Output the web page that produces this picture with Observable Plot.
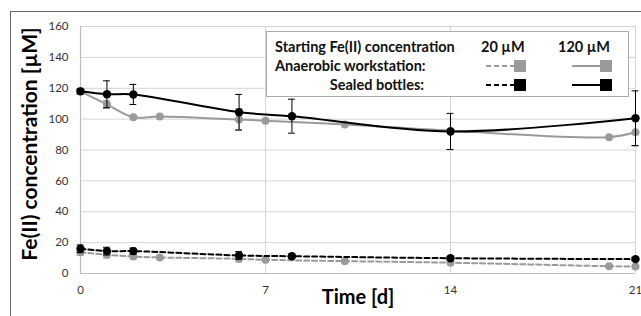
<!DOCTYPE html>
<html>
<head>
<meta charset="utf-8">
<script src="https://cdn.jsdelivr.net/npm/d3@7"></script>
<script src="https://cdn.jsdelivr.net/npm/@observablehq/plot@0.6"></script>
<style>
  html, body { margin: 0; padding: 0; background: #fff; }
  #wrap { position: relative; width: 641px; height: 316px; overflow: hidden; font-family: Lato, "Liberation Sans", sans-serif; }
  #border { position: absolute; left: 10px; top: 11px; width: 640px; height: 320px; border: 1.5px solid #666; box-sizing: border-box; pointer-events: none; }
  #legend { position: absolute; left: 266px; top: 31px; width: 363px; height: 66px; border: 1px solid #aaa; background: #fff; box-sizing: border-box; font-weight: bold; font-size: 14.5px; color: #111; }
  #legend .t { position: absolute; white-space: nowrap; line-height: 1; }
  #legend svg { position: absolute; left: 0; top: 0; }
  #chart { position: absolute; left: 0; top: 0; }
</style>
</head>
<body>
<div id="wrap">
  <div id="chart"></div>
  <div id="border"></div>
  <div id="legend"></div>
</div>
<script>
// ---- data ----
const awTime120   = [0, 1, 2, 3, 6, 7, 10, 14, 20, 21];
const awConc120   = [118, 109.5, 101.2, 101.7, 99.7, 99, 96.5, 92.5, 88.3, 91.5];
const sbTime120   = [0, 1, 2, 6, 8, 14, 21];
const sbConc120   = [118, 116.1, 116, 104.5, 101.9, 92, 100.6];
const sbErr120    = [1.5, 8.7, 6.5, 11.5, 11, 11.7, 17.7];
const awErrTime120 = [0, 1, 6, 21];
const awErr120     = [2, 2.5, 7, 9];

const awTime20    = [0, 1, 2, 3, 6, 7, 10, 14, 20, 21];
const awConc20    = [13.8, 12.1, 11, 10.4, 9.5, 8.9, 8, 7, 4.7, 4.5];
const awErrTime20 = [0, 1, 2, 6];
const awErr20     = [2, 2, 1.5, 2];
const sbTime20    = [0, 1, 2, 6, 8, 14, 21];
const sbConc20    = [16, 14.5, 14.5, 11.7, 11.2, 9.9, 9.3];
const sbErr20     = [2.5, 2.5, 2, 2.5, 1.5, 1, 1];

const yTicks = [0, 20, 40, 60, 80, 100, 120, 140, 160];
const xTicks = [0, 7, 14, 21];
const yTitle = "Fe(II) concentration [µM]";
const xTitle = "Time [d]";
const legendHeader = "Starting Fe(II) concentration";
const legendRows = ["Anaerobic workstation:", "Sealed bottles:"];
const legendCols = ["20 µM", "120 µM"];

// ---- build tables ----
const mk = (ts, vs) => ts.map((t, i) => ({t, v: vs[i]}));
const aw120 = mk(awTime120, awConc120);
const sb120 = mk(sbTime120, sbConc120);
const aw20 = mk(awTime20, awConc20);
const sb20 = mk(sbTime20, sbConc20);
const errs = (ts, vs, es) => ts.map((t, i) => ({t, lo: vs[i] - es[i], hi: vs[i] + es[i]}));
const sb120e = errs(sbTime120, sbConc120, sbErr120);
const sb20e = errs(sbTime20, sbConc20, sbErr20);
const aw120e = awErrTime120.map((t, i) => { const v = awConc120[awTime120.indexOf(t)]; return {t, lo: v - awErr120[i], hi: v + awErr120[i]}; });
const aw20e = awErrTime20.map((t, i) => { const v = awConc20[awTime20.indexOf(t)]; return {t, lo: v - awErr20[i], hi: v + awErr20[i]}; });

const GRAY = "#9a9a9a";
const BLACK = "#000";
const cap = 0.13;

function errMarks(data, color) {
  return [
    Plot.ruleX(data, {x: "t", y1: "lo", y2: "hi", stroke: color, strokeWidth: 1}),
    Plot.ruleY(data, {y: "lo", x1: d => d.t - cap, x2: d => d.t + cap, stroke: color, strokeWidth: 1}),
    Plot.ruleY(data, {y: "hi", x1: d => d.t - cap, x2: d => d.t + cap, stroke: color, strokeWidth: 1})
  ];
}

const chart = Plot.plot({
  width: 641,
  height: 316,
  marginLeft: 80,
  marginRight: 6,
  marginTop: 26,
  marginBottom: 43,
  style: {fontFamily: "Lato, 'Liberation Sans', sans-serif", background: "transparent"},
  x: {domain: [0, 21], ticks: xTicks},
  y: {domain: [0, 160], ticks: yTicks},
  marks: [
    Plot.gridY(yTicks, {stroke: "#d4d4d4", strokeOpacity: 1, strokeWidth: 1}),
    Plot.gridX(xTicks, {stroke: "#d4d4d4", strokeOpacity: 1, strokeWidth: 1}),
    Plot.ruleX([0], {stroke: "#bdbdbd", strokeWidth: 1.2}),
    Plot.ruleY([0], {stroke: "#bdbdbd", strokeWidth: 1.2}),
    Plot.axisY(yTicks, {tickSize: 0, tickPadding: 12, fontSize: 11.5, fill: "#333", label: null}),
    Plot.axisX(xTicks, {tickSize: 0, tickPadding: 12, fontSize: 11.5, fill: "#333", label: null}),
    ...errMarks(aw120e, GRAY),
    ...errMarks(aw20e, GRAY),
    Plot.line(aw120, {x: "t", y: "v", stroke: GRAY, strokeWidth: 2, curve: "catmull-rom"}),
    Plot.line(aw20, {x: "t", y: "v", stroke: GRAY, strokeWidth: 2, strokeDasharray: "5,3", curve: "catmull-rom"}),
    Plot.dot(aw120, {x: "t", y: "v", r: 4, fill: GRAY}),
    Plot.dot(aw20, {x: "t", y: "v", r: 4, fill: GRAY}),
    ...errMarks(sb120e, BLACK),
    ...errMarks(sb20e, BLACK),
    Plot.line(sb120, {x: "t", y: "v", stroke: BLACK, strokeWidth: 2, curve: "catmull-rom"}),
    Plot.line(sb20, {x: "t", y: "v", stroke: BLACK, strokeWidth: 2, strokeDasharray: "5,3", curve: "catmull-rom"}),
    Plot.dot(sb120, {x: "t", y: "v", r: 4.2, fill: BLACK}),
    Plot.dot(sb20, {x: "t", y: "v", r: 4.2, fill: BLACK}),
    Plot.text([yTitle], {text: d => d, frameAnchor: "left", textAnchor: "middle", dx: -50, dy: -6, rotate: -90, fontSize: 21, fontWeight: "bold", fill: "#000"}),
    Plot.text([xTitle], {text: d => d, frameAnchor: "bottom", dy: 30, fontSize: 20, fontWeight: "bold", fill: "#000"})
  ]
});
document.getElementById("chart").appendChild(chart);

// ---- legend ----
const lg = document.getElementById("legend");
function addText(txt, left, top, align) {
  const s = document.createElement("div");
  s.className = "t";
  s.textContent = txt;
  s.style.top = top + "px";
  if (align === "right") { s.style.right = (363 - left) + "px"; } else { s.style.left = left + "px"; }
  lg.appendChild(s);
}
// coordinates relative to the legend box (left 266, top 31)
addText(legendHeader, 8, 8);
addText(legendCols[0], 214, 8);
addText(legendCols[1], 291, 8);
addText(legendRows[0], 8, 27);
addText(legendRows[1], 159, 46, "right");
const ns = "http://www.w3.org/2000/svg";
const sv = document.createElementNS(ns, "svg");
sv.setAttribute("width", 363); sv.setAttribute("height", 66);
function sw(x0, y, color, dashed) {
  const l = document.createElementNS(ns, "line");
  l.setAttribute("x1", x0); l.setAttribute("x2", x0 + 34); l.setAttribute("y1", y); l.setAttribute("y2", y);
  l.setAttribute("stroke", color); l.setAttribute("stroke-width", 2);
  if (dashed) l.setAttribute("stroke-dasharray", "5,3");
  sv.appendChild(l);
  const r = document.createElementNS(ns, "rect");
  r.setAttribute("x", x0 + 28); r.setAttribute("y", y - 6); r.setAttribute("width", 12); r.setAttribute("height", 12);
  r.setAttribute("fill", color);
  sv.appendChild(r);
}
sw(219, 34, GRAY, true);
sw(305, 34, GRAY, false);
sw(219, 53, BLACK, true);
sw(305, 53, BLACK, false);
lg.appendChild(sv);
</script>
</body>
</html>
